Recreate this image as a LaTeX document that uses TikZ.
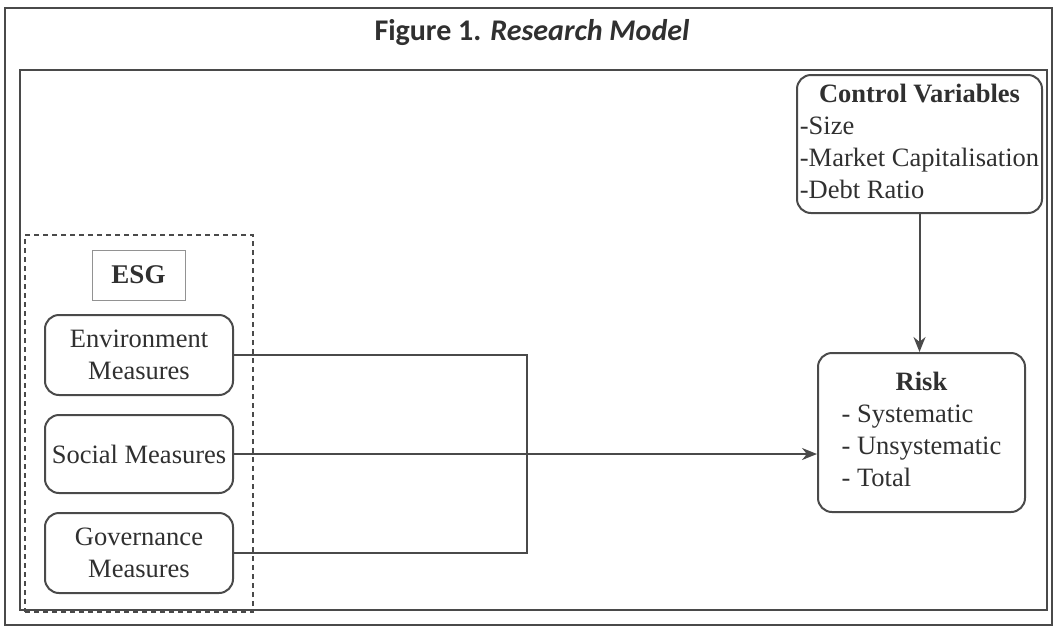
\documentclass[tikz,border=0pt]{standalone}
\usepackage{fontspec}
\setmainfont{Liberation Serif}
\newfontfamily\titlefont{Carlito}
\usetikzlibrary{arrows.meta}
\definecolor{ink}{HTML}{4A4A4A}
\definecolor{txt}{HTML}{303030}
\begin{document}
\begin{tikzpicture}[x=1pt,y=-1pt,
  frame/.style={draw=ink,line width=2.4pt},
  rbox/.style={draw=ink,line width=2pt,rounded corners=14pt,inner sep=0pt,text=txt,align=center,font=\fontsize{26.5}{32}\selectfont},
  conn/.style={draw=ink,line width=2pt},
  arr/.style={conn,-{Stealth[length=15pt,width=12pt]}}]
\useasboundingbox (0,0) rectangle (1057,630);
\fill[white] (0,0) rectangle (1057,630);
\draw[frame] (5,8) rectangle (1052,625);
\draw[frame] (20,70) rectangle (1047,610);
\node[text=txt,font=\titlefont\fontsize{30}{34}\selectfont] (title) at (532,33) {\textbf{Figure 1.} \textbf{\itshape Research Model}};
% ESG group
\node[draw=ink,line width=1.6pt,dash pattern=on 5pt off 4pt,minimum width=228pt,minimum height=377pt,inner sep=0pt] (esg) at (139,423.5) {};
\node[draw=ink!60,line width=0.8pt,minimum width=93pt,minimum height=50pt,inner sep=0pt,text=txt,font=\fontsize{27}{30}\selectfont\bfseries] (esglabel) at (138.5,275) {ESG};
\node[rbox,minimum width=188pt,minimum height=80pt] (env) at (139,355) {Environment\\Measures};
\node[rbox,minimum width=188pt,minimum height=78pt] (soc) at (139,454) {Social Measures};
\node[rbox,minimum width=188pt,minimum height=80pt] (gov) at (139,553) {Governance\\Measures};
% control & risk
\node[rbox,minimum width=245pt,minimum height=138pt] (ctrl) at (919.5,144) {\renewcommand\arraystretch{1.0}\begin{tabular}{@{}l@{}}\multicolumn{1}{@{}c@{}}{\textbf{Control Variables}}\\-Size\\-Market Capitalisation\\-Debt Ratio\end{tabular}};
\node[rbox,minimum width=207pt,minimum height=159pt] (risk) at (921.5,432.5) {\begin{tabular}{@{}l@{}}\multicolumn{1}{@{}c@{}}{\textbf{Risk}}\\- Systematic\\- Unsystematic\\- Total\end{tabular}};
% connectors
\coordinate (j) at (527,454);
\draw[conn] (env.east) -| (j);
\draw[conn] (gov.east) -| (j);
\draw[arr] (soc.east) -- (soc.east -| risk.west);
\draw[arr] (ctrl.south) -- (ctrl.south |- risk.north);
\end{tikzpicture}
\end{document}
